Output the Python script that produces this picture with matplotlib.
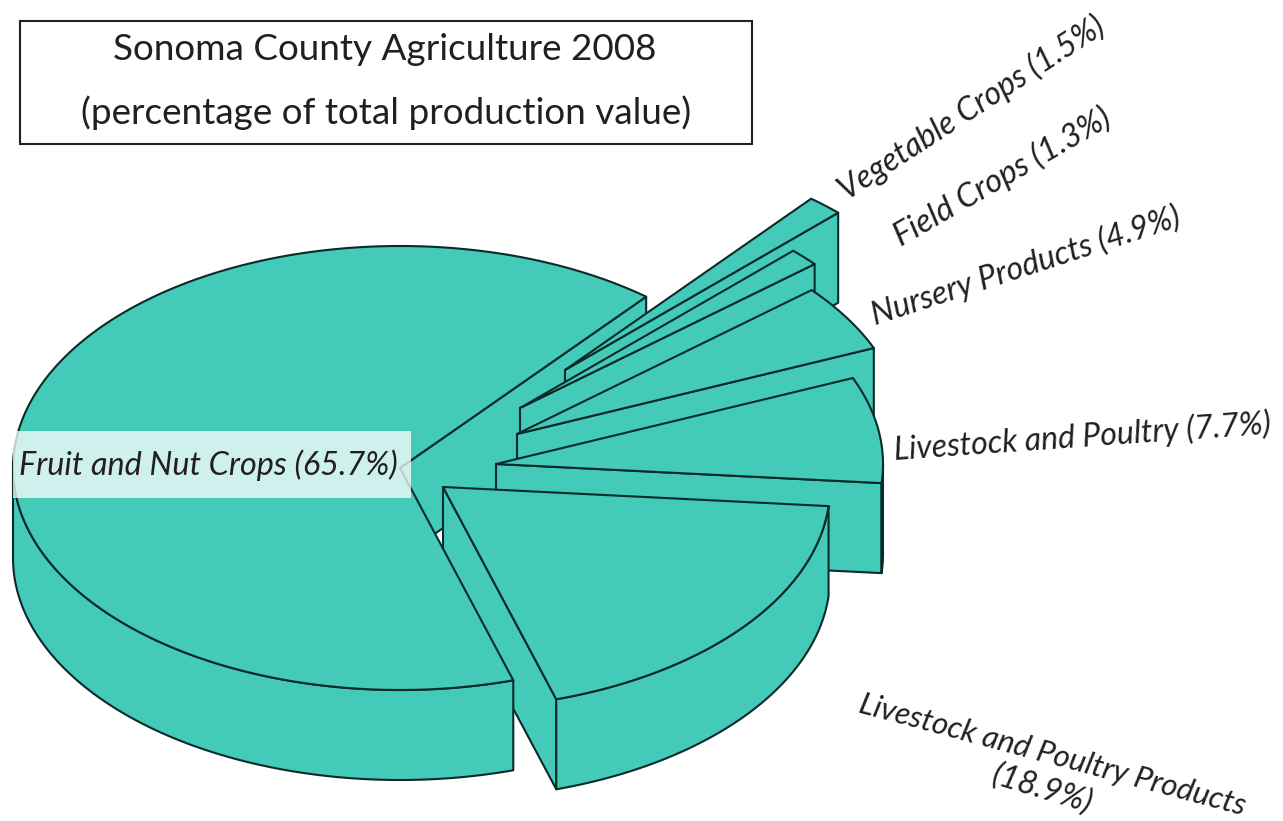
import matplotlib
matplotlib.use("Agg")
import matplotlib.pyplot as plt
import numpy as np

categories = ["Vegetable Crops", "Field Crops", "Nursery Products",
              "Livestock and Poultry", "Livestock and Poultry Products",
              "Fruit and Nut Crops"]
values = [1.5, 1.3, 4.9, 7.7, 18.9, 65.7]

# slice displacement from the pie centre, in pixels
explode_x = [165, 120, 117, 96, 43, 0]
explode_y = [-98, -60, -34, -4, 19, 0]

TEAL = "#43CAB9"
LINE = "#0b2b2a"
INK = "#231f20"

plt.rcParams["font.family"] = ["Lato", "DejaVu Sans"]

cx, cy = 400, 468
rx, ry = 387, 222
depth = 90
start_angle = 50.5


def rim(t, dx, dy):
    r = np.radians(t)
    return cx + dx + rx * np.cos(r), cy + dy - ry * np.sin(r)


def poly(ax, xs, ys, zorder):
    ax.fill(xs, ys, facecolor=TEAL, edgecolor=LINE, linewidth=1.5,
            joinstyle="round", zorder=zorder)


def cut_wall(ax, t, dx, dy, zorder):
    x1, y1 = rim(t, dx, dy)
    x0, y0 = cx + dx, cy + dy
    poly(ax, [x0, x1, x1, x0], [y0, y1, y1 + depth, y0 + depth], zorder)


def outer_wall(ax, t_low, t_high, dx, dy, zorder):
    # only the part of the rim that faces the viewer
    angles = np.linspace(t_low, t_high, 300)
    angles = angles[np.sin(np.radians(angles)) < 0]
    if len(angles) < 2:
        return
    xs, ys = rim(angles, dx, dy)
    poly(ax, np.r_[xs, xs[::-1]], np.r_[ys, ys[::-1] + depth], zorder)


def top(ax, t_low, t_high, dx, dy, zorder):
    angles = np.linspace(t_low, t_high, 300)
    xs, ys = rim(angles, dx, dy)
    poly(ax, np.r_[cx + dx, xs], np.r_[cy + dy, ys], zorder)


fig = plt.figure(figsize=(12.83, 8.21), dpi=100)
ax = fig.add_axes([0, 0, 1, 1])
ax.set_xlim(0, 1283)
ax.set_ylim(821, 0)
ax.axis("off")

t_high = start_angle
for i, val in enumerate(values):
    sweep = val / sum(values) * 360
    t_low = t_high - sweep
    dx, dy = explode_x[i], explode_y[i]
    if categories[i] == "Fruit and Nut Crops":
        # the big slice goes over the others, but its cut wall stays behind
        cut_wall(ax, start_angle, dx, dy, 1)
        outer_wall(ax, t_low, t_high, dx, dy, 20)
        top(ax, t_low, t_high, dx, dy, 21)
    else:
        z = 2 + 3 * i
        if np.cos(np.radians(t_low)) > 0:
            cut_wall(ax, t_low, dx, dy, z)
        if np.cos(np.radians(t_high)) < 0:
            cut_wall(ax, t_high, dx, dy, z)
        outer_wall(ax, t_low, t_high, dx, dy, z + 1)
        top(ax, t_low, t_high, dx, dy, z + 2)
    t_high = t_low

# title box
ax.add_patch(plt.Rectangle((19.5, 21.5), 732, 123, facecolor="white",
                           edgecolor=INK, linewidth=1.5, zorder=30))
ax.text(385, 49, "Sonoma County Agriculture 2008", ha="center", va="center",
        fontsize=26.6, color=INK, zorder=31)
ax.text(386, 113, "(percentage of total production value)", ha="center", va="center",
        fontsize=26.6, color=INK, zorder=31)

# pale box under the big slice's label
ax.add_patch(plt.Rectangle((13, 431), 398, 67, facecolor="white", alpha=0.75,
                           edgecolor="none", zorder=30))
ax.text(19, 465, f"{categories[5]} ({values[5]}%)", ha="left", va="center",
        fontsize=23.3, style="italic", color=INK, zorder=31)

label_kw = dict(ha="center", va="center", style="italic", color=INK,
                rotation_mode="anchor", zorder=31)
ax.text(972, 108, f"{categories[0]} ({values[0]}%)", rotation=33, fontsize=23, **label_kw)
ax.text(1002, 177, f"{categories[1]} ({values[1]}%)", rotation=30, fontsize=23.5, **label_kw)
ax.text(1026, 266, f"{categories[2]} ({values[2]}%)", rotation=18, fontsize=23, **label_kw)
ax.text(1082, 437, f"{categories[3]} ({values[3]}%)", rotation=4, fontsize=23, **label_kw)
ax.text(1052, 755, categories[4], rotation=-15, fontsize=22.4, **label_kw)
ax.text(1042, 790, f"({values[4]}%)", rotation=-17, fontsize=23, **label_kw)

fig.savefig("out.png", dpi=100)
